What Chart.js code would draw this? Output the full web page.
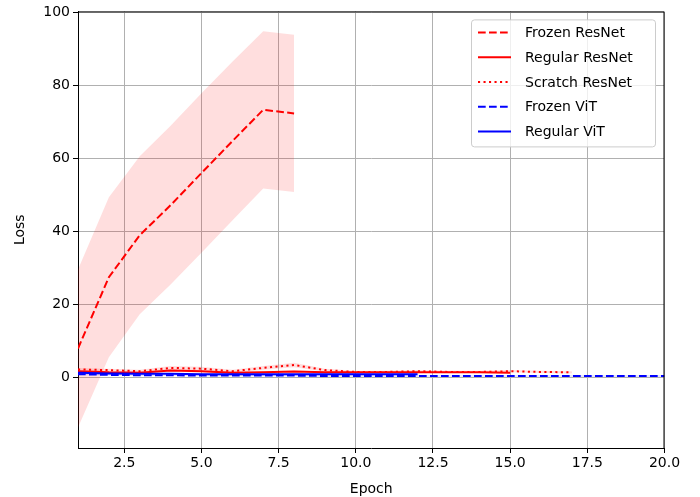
<!DOCTYPE html>
<html>
<head>
<meta charset="utf-8">
<script src="https://cdn.jsdelivr.net/npm/chart.js@4.4.0/dist/chart.umd.min.js"></script>
<style>
  html, body { margin: 0; padding: 0; background: #fff; }
</style>
</head>
<body>
<canvas id="loss-chart" width="700" height="497"></canvas>
<script>
const seriesNames = ['Frozen ResNet', 'Regular ResNet', 'Scratch ResNet', 'Frozen ViT', 'Regular ViT'];
const xTicks = [2.5, 5.0, 7.5, 10.0, 12.5, 15.0, 17.5, 20.0];
const yTicks = [0, 20, 40, 60, 80, 100];

// mean loss per epoch (epochs start at 1)
const frozenResnet = [8.0, 27.5, 39.0, 47.2, 56.0, 64.7, 73.3, 72.3];
const frozenResnetStd = [21.6, 21.9, 21.6, 21.7, 21.8, 21.7, 21.5, 21.5];
const regularResnet = [1.8, 1.5, 1.4, 2.0, 1.8, 1.4, 1.5, 1.7, 1.5, 1.5, 1.5, 1.5, 1.5, 1.5, 1.4];
const regularResnetStd = [0.3, 0.3, 0.3, 0.4, 0.3, 0.3, 0.3, 0.3, 0.2, 0.2, 0.2, 0.2, 0.2, 0.2, 0.2];
const scratchResnet = [2.3, 2.1, 1.8, 2.7, 2.5, 1.8, 2.7, 3.5, 2.1, 1.6, 1.6, 1.8, 1.6, 1.6, 1.8, 1.6, 1.5];
const scratchResnetStd = [0.4, 0.4, 0.4, 0.5, 0.5, 0.4, 0.5, 0.6, 0.4, 0.3, 0.3, 0.3, 0.3, 0.3, 0.3, 0.3, 0.3];
const frozenVit = [1.0, 0.8, 0.7, 0.7, 0.6, 0.6, 0.6, 0.6, 0.5, 0.5, 0.5, 0.5, 0.5, 0.5, 0.5, 0.5, 0.5, 0.5, 0.5, 0.5];
const frozenVitStd = [0.3, 0.2, 0.2, 0.2, 0.2, 0.2, 0.2, 0.2, 0.2, 0.2, 0.2, 0.2, 0.2, 0.2, 0.2, 0.2, 0.2, 0.2, 0.2, 0.2];
const regularVit = [1.4, 1.2, 1.1, 1.1, 1.0, 1.0, 1.0, 1.0, 1.0, 1.0, 1.0, 1.0];
const regularVitStd = [0.3, 0.3, 0.2, 0.2, 0.2, 0.2, 0.2, 0.2, 0.2, 0.2, 0.2, 0.2];

const FONT = '"DejaVu Sans", "Liberation Sans", sans-serif';
const DASHED = [7.7, 3.3];
const DOTTED = [2.1, 3.4];

const styles = [
  { color: '#ff0000', band: 'rgba(255,0,0,0.13)', dash: DASHED },
  { color: '#ff0000', band: 'rgba(255,0,0,0.13)', dash: [] },
  { color: '#ff0000', band: 'rgba(255,0,0,0.13)', dash: DOTTED },
  { color: '#0000ff', band: 'rgba(0,0,255,0.13)', dash: DASHED },
  { color: '#0000ff', band: 'rgba(0,0,255,0.13)', dash: [] },
];
const means = [frozenResnet, regularResnet, scratchResnet, frozenVit, regularVit];
const stds = [frozenResnetStd, regularResnetStd, scratchResnetStd, frozenVitStd, regularVitStd];

const toPoints = arr => arr.map((v, i) => ({ x: i + 1, y: v }));

const datasets = [];
let order = 100;
means.forEach((mean, s) => {
  const lower = mean.map((m, i) => m - stds[s][i]);
  const upper = mean.map((m, i) => m + stds[s][i]);
  datasets.push({
    data: toPoints(lower), borderWidth: 0, pointRadius: 0, fill: false, order: order--,
  });
  datasets.push({
    data: toPoints(upper), borderWidth: 0, pointRadius: 0, fill: '-1',
    backgroundColor: styles[s].band, order: order--,
  });
  datasets.push({
    label: seriesNames[s],
    data: toPoints(mean),
    borderColor: styles[s].color,
    borderWidth: 2,
    borderDash: styles[s].dash,
    borderCapStyle: 'butt',
    pointRadius: 0,
    fill: false,
    tension: 0,
    order: order--,
  });
});

// top/right spines
const framePlugin = {
  id: 'frame',
  afterDatasetsDraw(chart) {
    const { ctx, chartArea: a } = chart;
    ctx.save();
    ctx.strokeStyle = '#000';
    ctx.lineWidth = 1;
    ctx.beginPath();
    ctx.moveTo(a.left, a.top + 0.5);
    ctx.lineTo(a.right - 0.5, a.top + 0.5);
    ctx.lineTo(a.right - 0.5, a.bottom);
    ctx.stroke();
    ctx.restore();
  }
};

// matplotlib-style legend, upper right
const legendPlugin = {
  id: 'mplLegend',
  afterDraw(chart) {
    const { ctx, chartArea: a } = chart;
    const w = 184, h = 127;
    const x0 = a.right - 9.5 - w, y0 = a.top + 8;
    ctx.save();
    ctx.beginPath();
    ctx.roundRect(x0 + 0.5, y0 + 0.5, w, h, 3);
    ctx.fillStyle = 'rgba(255,255,255,0.8)';
    ctx.fill();
    ctx.strokeStyle = '#cccccc';
    ctx.lineWidth = 1;
    ctx.stroke();
    seriesNames.forEach((name, i) => {
      const y = y0 + 13 + i * 24.75;
      ctx.strokeStyle = styles[i].color;
      ctx.lineWidth = 2;
      ctx.lineCap = 'butt';
      ctx.setLineDash(styles[i].dash);
      ctx.beginPath();
      ctx.moveTo(x0 + 7, y);
      ctx.lineTo(x0 + 40, y);
      ctx.stroke();
      ctx.setLineDash([]);
      ctx.fillStyle = '#000';
      ctx.font = '14px ' + FONT;
      ctx.textBaseline = 'middle';
      ctx.textAlign = 'left';
      ctx.fillText(name, x0 + 54, y + 1);
    });
    ctx.restore();
  }
};

new Chart(document.getElementById('loss-chart'), {
  type: 'line',
  data: { datasets },
  options: {
    responsive: false,
    animation: false,
    layout: { padding: { top: 10, right: 35.5, left: 0, bottom: 0 } },
    plugins: { legend: { display: false }, tooltip: { enabled: false } },
    scales: {
      x: {
        type: 'linear',
        min: 1,
        max: 20,
        afterBuildTicks: scale => { scale.ticks = xTicks.map(v => ({ value: v })); },
        afterFit: scale => { scale.height = 49; },
        ticks: {
          callback: v => v.toFixed(1),
          color: '#000',
          font: { family: FONT, size: 14 },
          padding: 2,
          maxRotation: 0,
          autoSkip: false,
        },
        grid: { color: '#b0b0b0', lineWidth: 1, tickColor: '#000', tickLength: 5 },
        border: { color: '#000', width: 1 },
        title: { display: true, text: 'Epoch', color: '#000', font: { family: FONT, size: 14 }, padding: { top: 0, bottom: -1 } },
      },
      y: {
        type: 'linear',
        min: -19.2,
        max: 100.2,
        afterBuildTicks: scale => { scale.ticks = yTicks.map(v => ({ value: v })); },
        afterFit: scale => { scale.width = 78; },
        ticks: {
          callback: v => String(v),
          color: '#000',
          font: { family: FONT, size: 14 },
          padding: 3,
        },
        grid: { color: '#b0b0b0', lineWidth: 1, tickColor: '#000', tickLength: 5 },
        border: { color: '#000', width: 1 },
        title: { display: true, text: 'Loss', color: '#000', font: { family: FONT, size: 14 }, padding: { top: 12, bottom: 0 } },
      }
    }
  },
  plugins: [framePlugin, legendPlugin]
});
</script>
</body>
</html>
